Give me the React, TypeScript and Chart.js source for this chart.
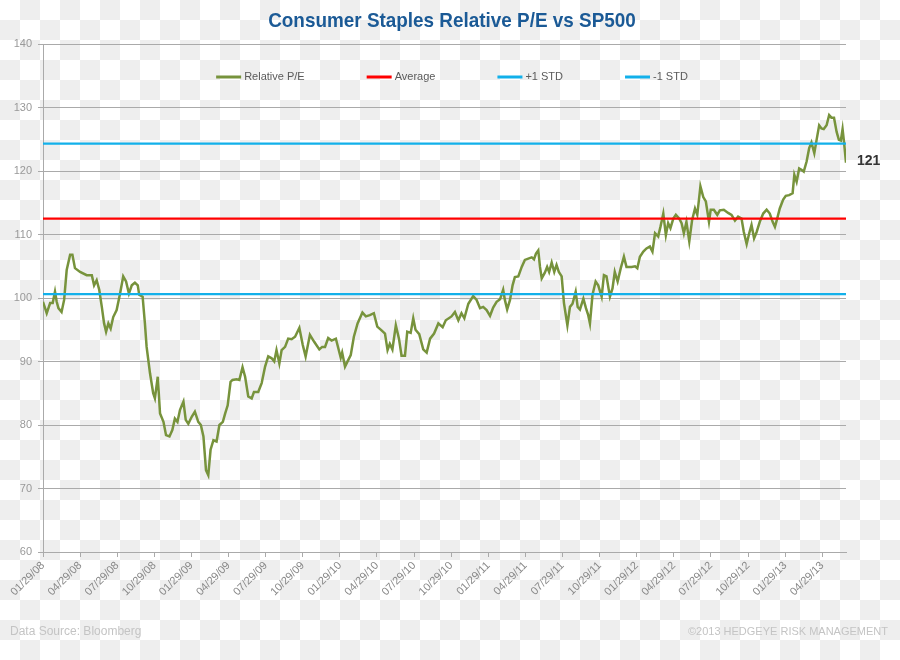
import React, { useEffect, useRef } from "react";
import { Chart, registerables } from "chart.js";

Chart.register(...registerables);

// Week offsets from 01/29/08 (a quarter ~ 13 weeks) and Relative P/E values
const weeks = [
  0, 1.3, 2.5, 3.4, 4.2, 4.8, 5.4, 6.5, 7.4, 8.3, 9.5, 10.3, 11.2, 13.0, 15.3, 17.1, 17.9, 18.8, 19.7, 20.6,
  21.4, 22.1, 22.9, 23.7, 24.6, 25.8, 27.0, 28.1, 29.1, 30.1, 31.1, 32.2, 33.2, 33.7, 34.9, 35.7, 36.3, 37.5, 38.6, 39.2,
  40.2, 41.0, 42.2, 43.1, 44.3, 45.3, 46.2, 47.1, 48.0, 49.2, 50.0, 50.9, 52.1, 53.2, 54.4, 55.3, 56.2, 57.1, 57.9, 58.7,
  59.7, 60.8, 61.8, 63.0, 63.8, 64.7, 65.7, 66.4, 67.8, 68.8, 69.9, 70.8, 71.9, 73.1, 73.9, 75.4, 76.6, 77.8, 78.9, 80.1,
  81.0, 81.8, 82.8, 83.6, 84.8, 85.9, 87.1, 88.3, 89.8, 91.0, 92.0, 93.5, 95.0, 96.8, 97.8, 98.8, 99.9, 101.1, 102.6, 104.3,
  104.8, 105.8, 107.0, 107.8, 108.9, 110.2, 111.9, 113.1, 114.5, 115.9, 117.1, 118.6, 119.8, 120.7, 121.5, 122.4, 123.6, 124.7, 125.6, 126.8,
  127.6, 128.8, 129.7, 130.5, 131.8, 133.2, 134.4, 135.6, 137.0, 138.5, 140.0, 141.1, 143.1, 144.3, 145.5, 146.6, 147.6, 149.0, 150.7, 151.9,
  153.1, 154.2, 155.4, 156.6, 157.7, 158.9, 160.1, 161.2, 161.8, 162.6, 163.6, 164.5, 165.3, 166.5, 167.7, 168.8, 170.0, 171.2, 172.0, 172.7,
  173.5, 174.1, 174.7, 175.8, 176.6, 177.3, 178.2, 179.1, 179.9, 180.7, 181.7, 182.5, 183.7, 184.6, 185.5, 186.6, 187.3, 188.1, 189.3, 190.2,
  191.0, 191.6, 192.5, 193.6, 194.5, 195.7, 196.5, 197.4, 198.6, 199.5, 200.3, 201.3, 202.4, 203.5, 204.4, 206.2, 207.4, 208.2, 209.1, 210.3,
  211.4, 212.6, 213.5, 214.4, 215.5, 216.3, 217.3, 218.2, 219.0, 219.8, 220.8, 221.7, 222.9, 223.7, 224.5, 225.4, 226.4, 227.4, 228.4, 229.2,
  230.3, 231.3, 232.2, 233.3, 233.9, 235.0, 236.2, 237.1, 238.5, 240.0, 241.2, 242.4, 243.5, 244.7, 245.5, 246.5, 247.4, 248.2, 249.1, 250.0,
  251.1, 252.3, 253.5, 254.6, 255.6, 256.4, 257.2, 258.1, 259.3, 260.2, 261.4, 262.6, 263.2, 264.0, 264.9, 265.7, 266.5, 267.5, 268.4, 269.2,
  270.2, 271.0, 271.9, 272.7, 273.5, 274.5, 275.4, 276.2, 277.1, 278.0, 278.8, 279.5, 280.1, 280.6, 281.3,
];

const relativePE = [
  99.4, 97.6, 99.2, 99.2, 101.0, 99.4, 98.4, 97.8, 99.7, 104.4, 106.8, 106.8, 104.7, 104.1, 103.6, 103.6, 102.0, 102.8, 101.3, 98.6,
  96.0, 94.7, 96.0, 95.2, 97.0, 98.1, 100.7, 103.4, 102.6, 100.7, 102.0, 102.4, 102.0, 100.5, 100.2, 96.0, 92.3, 88.1, 85.0, 84.2,
  87.6, 81.8, 80.5, 78.4, 78.2, 79.2, 81.0, 80.5, 82.4, 83.7, 80.8, 80.2, 81.3, 82.1, 80.5, 80.0, 78.2, 72.9, 72.1, 76.1,
  77.6, 77.4, 80.0, 80.5, 81.8, 83.1, 86.8, 87.1, 87.2, 87.1, 89.1, 87.6, 84.5, 84.2, 85.2, 85.2, 86.6, 89.2, 90.8, 90.5,
  90.0, 91.8, 89.7, 91.8, 92.3, 93.6, 93.5, 93.9, 95.3, 92.6, 90.8, 94.2, 93.1, 91.9, 92.3, 92.3, 93.7, 93.3, 93.6, 90.6,
  91.4, 89.2, 90.3, 91.0, 93.9, 96.0, 97.7, 97.1, 97.3, 97.6, 95.5, 94.9, 94.4, 91.8, 92.8, 91.9, 95.7, 93.6, 90.9, 90.9,
  94.7, 94.5, 96.8, 95.0, 94.3, 91.9, 91.4, 93.6, 94.4, 96.0, 95.4, 96.5, 97.1, 97.8, 96.5, 97.6, 96.8, 99.1, 100.3, 99.7,
  98.4, 98.6, 98.1, 97.2, 98.5, 99.4, 99.8, 101.3, 99.7, 98.2, 99.7, 102.0, 103.3, 103.4, 104.9, 106.0, 106.2, 106.4, 106.1, 107.0,
  107.5, 104.9, 103.1, 104.0, 104.9, 104.1, 105.6, 104.1, 105.2, 104.1, 103.4, 99.2, 95.7, 98.6, 99.1, 101.0, 98.6, 98.2, 99.9, 98.4,
  97.3, 96.0, 100.5, 102.6, 102.0, 100.2, 103.6, 103.4, 100.2, 101.5, 104.1, 102.6, 104.7, 106.5, 104.9, 104.9, 105.0, 104.7, 106.5, 107.3,
  107.8, 108.1, 107.3, 110.2, 109.7, 111.2, 113.3, 109.9, 111.8, 111.0, 112.5, 113.1, 112.5, 111.8, 110.2, 112.0, 108.9, 112.3, 114.1, 113.1,
  117.6, 115.9, 115.2, 112.0, 113.9, 113.9, 113.1, 113.8, 113.9, 113.4, 113.1, 112.2, 112.8, 112.5, 110.4, 108.5, 110.2, 111.5, 109.4, 110.4,
  112.0, 113.3, 113.9, 113.3, 112.0, 111.2, 112.5, 114.1, 115.5, 116.1, 116.2, 116.5, 119.4, 118.3, 120.4, 120.2, 119.9, 121.5, 123.6, 124.5,
  122.8, 124.9, 127.2, 126.7, 126.6, 127.2, 128.8, 128.4, 128.4, 126.2, 124.9, 124.8, 126.6, 124.6, 121.3,
];

const AVERAGE = 112.5;
const PLUS_1_STD = 124.3;
const MINUS_1_STD = 100.6;

const quarterLabels = [
  "01/29/08", "04/29/08", "07/29/08", "10/29/08",
  "01/29/09", "04/29/09", "07/29/09", "10/29/09",
  "01/29/10", "04/29/10", "07/29/10", "10/29/10",
  "01/29/11", "04/29/11", "07/29/11", "10/29/11",
  "01/29/12", "04/29/12", "07/29/12", "10/29/12",
  "01/29/13", "04/29/13",
];
const WEEKS_PER_QUARTER = 13;

const TITLE = "Consumer Staples Relative P/E vs SP500";
const SOURCE_TEXT = "Data Source: Bloomberg";
const COPYRIGHT_TEXT = "\u00A92013 HEDGEYE RISK MANAGEMENT";

const FONT = "'Liberation Sans', Arial, sans-serif";

const overlayPlugin = {
  id: "overlay",
  afterDraw(chart: any) {
    const { ctx, chartArea } = chart;
    ctx.save();

    // title (condensed bold)
    ctx.save();
    ctx.font = `bold 21px ${FONT}`;
    ctx.fillStyle = "#1b5a96";
    ctx.textAlign = "center";
    ctx.textBaseline = "middle";
    ctx.translate(452, 21);
    ctx.scale(0.9, 1);
    ctx.fillText(TITLE, 0, 0);
    ctx.restore();

    // legend
    ctx.font = `11px ${FONT}`;
    const datasets = chart.data.datasets;
    const LINE = 25;
    const TEXT_GAP = 3;
    const ITEM_GAP = 62;
    const widths = datasets.map((ds: any) => LINE + TEXT_GAP + ctx.measureText(ds.label).width);
    const total = widths.reduce((a: number, b: number) => a + b, 0) + ITEM_GAP * (datasets.length - 1);
    let x = 452 - total / 2;
    const y = 77;
    datasets.forEach((ds: any, i: number) => {
      ctx.strokeStyle = ds.borderColor;
      ctx.lineWidth = 3;
      ctx.beginPath();
      ctx.moveTo(x, y);
      ctx.lineTo(x + LINE, y);
      ctx.stroke();
      ctx.fillStyle = "#5a5a5a";
      ctx.textAlign = "left";
      ctx.textBaseline = "middle";
      ctx.fillText(ds.label, x + LINE + TEXT_GAP, y);
      x += widths[i] + ITEM_GAP;
    });

    // last value label
    const last = relativePE[relativePE.length - 1];
    const yPix = chart.scales.y.getPixelForValue(last);
    ctx.font = `bold 14px ${FONT}`;
    ctx.fillStyle = "#333333";
    ctx.textAlign = "left";
    ctx.textBaseline = "middle";
    ctx.fillText(String(Math.round(last)), chartArea.right + 11, yPix - 2);

    // footer
    ctx.fillStyle = "#c4c4c4";
    ctx.font = `12px ${FONT}`;
    ctx.textAlign = "left";
    ctx.fillText(SOURCE_TEXT, 10, 632);
    ctx.font = `11px ${FONT}`;
    ctx.textAlign = "right";
    ctx.fillText(COPYRIGHT_TEXT, 888, 632);
    ctx.restore();
  },
};

export default function App() {
  const canvasRef = useRef<HTMLCanvasElement | null>(null);

  useEffect(() => {
    if (!canvasRef.current) return;
    const first = weeks[0];
    const lastW = weeks[weeks.length - 1];
    const hLine = (v: number) => [
      { x: first, y: v },
      { x: lastW, y: v },
    ];
    const chart = new Chart(canvasRef.current, {
      type: "line",
      data: {
        datasets: [
          {
            label: "Relative P/E",
            data: weeks.map((w, i) => ({ x: w, y: relativePE[i] })),
            borderColor: "#77933c",
            borderWidth: 2.5,
            pointRadius: 0,
            tension: 0,
            order: 1,
          },
          {
            label: "Average",
            data: hLine(AVERAGE),
            borderColor: "#ff0000",
            borderWidth: 2.2,
            pointRadius: 0,
            order: 0,
          },
          {
            label: "+1 STD",
            data: hLine(PLUS_1_STD),
            borderColor: "#12b0ea",
            borderWidth: 2.2,
            pointRadius: 0,
            order: 0,
          },
          {
            label: "-1 STD",
            data: hLine(MINUS_1_STD),
            borderColor: "#12b0ea",
            borderWidth: 2.2,
            pointRadius: 0,
            order: 0,
          },
        ],
      },
      options: {
        animation: false,
        responsive: false,
        devicePixelRatio: 1,
        layout: { padding: { left: 0, right: 54, top: 44, bottom: 0 } },
        plugins: {
          legend: { display: false },
          tooltip: { enabled: false },
          title: { display: false },
        },
        scales: {
          x: {
            type: "linear",
            min: first,
            max: lastW,
            afterBuildTicks: (scale: any) => {
              scale.ticks = quarterLabels.map((_, i) => ({ value: i * WEEKS_PER_QUARTER }));
            },
            afterFit: (scale: any) => {
              scale.height = 108;
            },
            grid: {
              display: true,
              drawOnChartArea: false,
              drawTicks: true,
              tickLength: 5,
              color: "#aaaaaa",
            },
            border: { display: true, color: "#aaaaaa" },
            ticks: {
              autoSkip: false,
              minRotation: 45,
              maxRotation: 45,
              color: "#888888",
              font: { size: 11, family: FONT },
              padding: 2,
              callback: (_v: any, index: number) => quarterLabels[index] ?? "",
            },
          },
          y: {
            min: 60,
            max: 140,
            afterFit: (scale: any) => {
              scale.width = 43;
            },
            grid: { color: "#aaaaaa", tickLength: 5 },
            border: { display: true, color: "#aaaaaa" },
            ticks: {
              stepSize: 10,
              color: "#999999",
              font: { size: 11, family: FONT },
              padding: 6,
            },
          },
        },
      },
      plugins: [overlayPlugin],
    } as any);
    return () => chart.destroy();
  }, []);

  return (
    <div
      style={{
        position: "fixed",
        left: 0,
        top: 0,
        width: 900,
        height: 660,
        backgroundColor: "#ffffff",
        backgroundImage:
          "conic-gradient(#eeeeee 0 25%, #ffffff 0 50%, #eeeeee 0 75%, #ffffff 0)",
        backgroundSize: "40px 40px",
      }}
    >
      <canvas ref={canvasRef} width={900} height={660} style={{ display: "block" }} />
    </div>
  );
}
